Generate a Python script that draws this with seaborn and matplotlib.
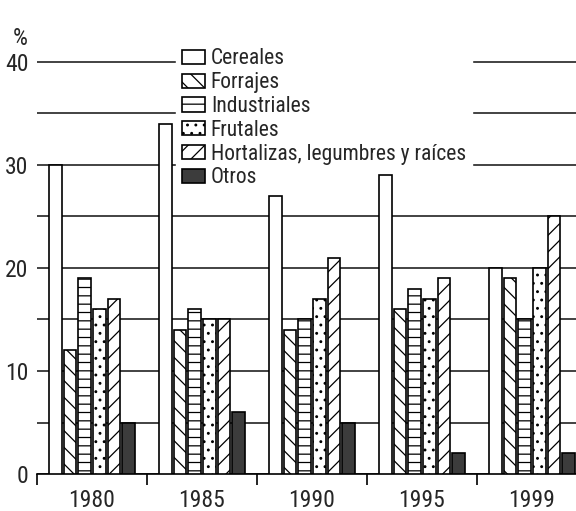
import matplotlib
matplotlib.use('Agg')
import matplotlib.pyplot as plt
from matplotlib.ticker import FixedLocator, MultipleLocator
import pandas as pd
import seaborn as sns

years = ['1980', '1985', '1990', '1995', '1999']
crops = ['Cereales', 'Forrajes', 'Industriales', 'Frutales',
         'Hortalizas, legumbres y raíces', 'Otros']
cereales = [30, 34, 27, 29, 20]
forrajes = [12, 14, 14, 16, 19]
industriales = [19, 16, 15, 18, 15]
frutales = [16, 15, 17, 17, 20]
hortalizas = [17, 15, 21, 19, 25]
otros = [5, 6, 5, 2, 2]

values = [cereales, forrajes, industriales, frutales, hortalizas, otros]
rows = []
for crop, vals in zip(crops, values):
    for yr, v in zip(years, vals):
        rows.append({'year': yr, 'crop': crop, 'pct': v})
df = pd.DataFrame(rows)

sns.set_style('white')
plt.rcParams['font.family'] = ['Roboto Condensed', 'Liberation Sans Narrow',
                               'Liberation Sans', 'DejaVu Sans']
plt.rcParams['hatch.linewidth'] = 0.9

fig = plt.figure(figsize=(5.76, 5.11), dpi=100)
# axes run past the right edge, as in the original
ax = fig.add_axes([37 / 576, 37 / 511, 550 / 576, 422.3 / 511])

palette = {c: 'white' for c in crops}
palette['Otros'] = '#3c3c3c'
sns.barplot(data=df, x='year', y='pct', hue='crop', hue_order=crops,
            palette=palette, edgecolor='black', linewidth=1.2,
            gap=0.12, legend=False, ax=ax, zorder=3)

hatches = ['', '\\\\', '--', '..', '//', '']
for cont, h in zip(ax.containers, hatches):
    for p in cont:
        p.set_hatch(h)

ax.set_ylim(0, 41)
ax.set_xlim(-0.5, 4.5)
ax.yaxis.set_major_locator(FixedLocator([0, 10, 20, 30, 40]))
ax.yaxis.set_minor_locator(MultipleLocator(5))
ax.grid(axis='y', which='both', color='#222222', linewidth=1.2, zorder=0)
ax.set_axisbelow(True)

ax.xaxis.set_minor_locator(FixedLocator([-0.5, 0.5, 1.5, 2.5, 3.5]))
ax.tick_params(axis='x', which='major', length=0, pad=11, labelsize=17)
ax.tick_params(axis='x', which='minor', length=8, width=1.2, direction='out',
               color='black', bottom=True)
ax.tick_params(axis='y', which='both', length=0, pad=6, labelsize=17)

for s in ['top', 'right', 'left']:
    ax.spines[s].set_visible(False)
ax.spines['bottom'].set_color('black')
ax.spines['bottom'].set_linewidth(1.2)
ax.set_xlabel('')
ax.set_ylabel('')

leg = ax.legend(ax.containers, crops, loc='upper left',
                bbox_to_anchor=(176 / 576, 1 - 42 / 511),
                bbox_transform=fig.transFigure, frameon=True,
                fontsize=15.5, handlelength=1.07, handleheight=0.65,
                handletextpad=0.25, labelspacing=0.13, borderpad=0.3,
                borderaxespad=0)
leg.get_frame().set_facecolor('white')
leg.get_frame().set_edgecolor('white')
leg.get_frame().set_alpha(1)
# bars stay on top of the legend box
leg.set_zorder(2.5)

fig.text(20 / 576, 1 - 45 / 511, '%', fontsize=17, ha='center', va='baseline')

fig.savefig('out.png', dpi=100)
